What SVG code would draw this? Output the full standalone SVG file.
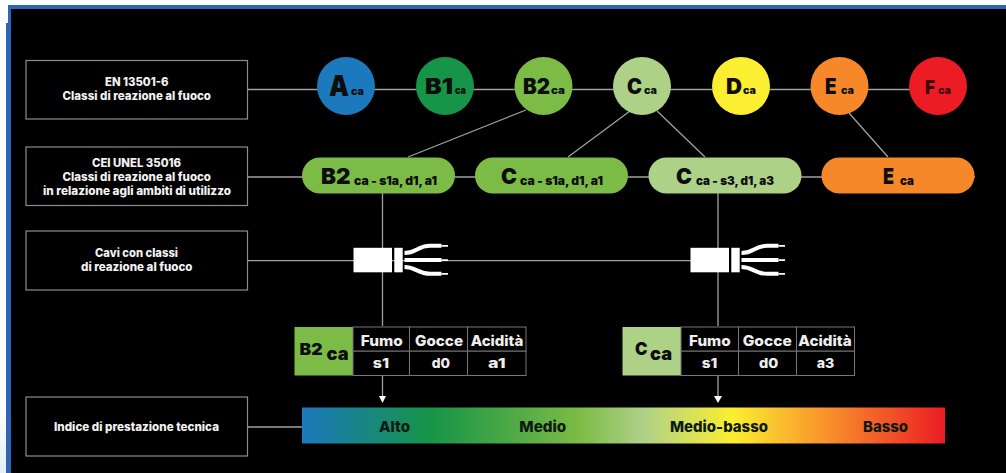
<svg xmlns="http://www.w3.org/2000/svg" width="1006" height="473" viewBox="0 0 1006 473">
<style>
text{font-family:"Inter","Liberation Sans",sans-serif;font-weight:900;text-anchor:start}
.lbl{fill:#f2f2f2;font-size:11.5px;font-weight:800}
.box{fill:#000;stroke:#8c8c8c;stroke-width:1.2}
.ln{stroke:#a0a0a0;stroke-width:1.3;fill:none}
.big{fill:#0d0d0d}
.cell{fill:#000;stroke:#777;stroke-width:1}
.th{fill:#eee;font-size:14.500px;font-weight:800}
.td{fill:#eee;font-size:13.500px;font-weight:800}
.bar{fill:#0e1a12;font-size:15px;font-weight:800}
.wire{stroke:#fff;stroke-width:4;fill:none}
.tip{stroke:#fff;stroke-width:1.800;fill:none}
</style>
<defs>
<linearGradient id="g" x1="0" x2="1" y1="0" y2="0">
<stop offset="0" stop-color="#1c79bd"/>
<stop offset="0.2" stop-color="#169447"/>
<stop offset="0.43" stop-color="#7cbb45"/>
<stop offset="0.53" stop-color="#aed188"/>
<stop offset="0.67" stop-color="#fcee30"/>
<stop offset="0.83" stop-color="#f7882a"/>
<stop offset="1" stop-color="#ec1c24"/>
</linearGradient>
<linearGradient id="side" x1="0" x2="0" y1="0" y2="1">
<stop offset="0" stop-color="#fff"/><stop offset="1" stop-color="#e3eef6"/>
</linearGradient>
<g id="cable">
<rect x="0" y="0" width="38.500" height="24.500" fill="#fff"/>
<rect x="40.800" y="0" width="8.400" height="24.500" fill="#fff"/>
<path class="wire" d="M51 5.300C63 5.300 64 -2 76.500 -2H88M51 12.300H88M51 19.300C63 19.300 64 26 76.500 26H88"/>
<path class="tip" d="M88 -2H94.500M88 12.300H94.500M88 26H94.500"/>
</g>
</defs>
<rect width="1006" height="473" fill="#fff"/>
<rect x="0" y="400" width="8" height="73" fill="url(#side)"/>
<rect x="8" y="5" width="998" height="468" fill="#2f64b5"/>
<rect x="6" y="23" width="5" height="450" fill="#2f64b5"/>
<rect x="11" y="9" width="995" height="464" fill="#000"/>

<g id="connectors">
<path class="ln" d="M247 89.500H938M247 177H975M247 427H302"/>
<path class="ln" d="M408 157L526 110M568 157L630 111M705 157L657 111M888 157L849 113"/>
<path class="ln" d="M382.500 193V326M718 193V326M247 260.700H692M382.500 376V398M718 376V398"/>
<path d="M379 396H386L382.500 403Z" fill="#fff"/>
<path d="M714 396H722L718 403Z" fill="#fff"/>
</g>

<g id="rowlabel1"><rect class="box" x="26" y="60.500" width="221.500" height="58.500"/><text class="lbl" x="105" y="85.500" textLength="63.500" lengthAdjust="spacingAndGlyphs">EN 13501-6</text><text class="lbl" x="62.500" y="99.500" textLength="148.500" lengthAdjust="spacingAndGlyphs">Classi di reazione al fuoco</text></g>
<g id="rowlabel2"><rect class="box" x="26" y="147" width="221.500" height="58.500"/><text class="lbl" x="92" y="166.500" textLength="89" lengthAdjust="spacingAndGlyphs">CEI UNEL 35016</text><text class="lbl" x="62.500" y="180.500" textLength="148.500" lengthAdjust="spacingAndGlyphs">Classi di reazione al fuoco</text><text class="lbl" x="43" y="194.500" textLength="188" lengthAdjust="spacingAndGlyphs">in relazione agli ambiti di utilizzo</text></g>
<g id="rowlabel3"><rect class="box" x="26" y="231" width="221.500" height="59"/><text class="lbl" x="95" y="257.300" textLength="83" lengthAdjust="spacingAndGlyphs">Cavi con classi</text><text class="lbl" x="81" y="271" textLength="111.500" lengthAdjust="spacingAndGlyphs">di reazione al fuoco</text></g>
<g id="rowlabel4"><rect class="box" x="26" y="397" width="221.500" height="59"/><text class="lbl" x="54" y="431" textLength="165" lengthAdjust="spacingAndGlyphs">Indice di prestazione tecnica</text></g>

<g id="class-a"><circle cx="346" cy="86" r="29" fill="#1c79bd"/><text class="big" x="329" y="96" font-size="29" textLength="20" lengthAdjust="spacingAndGlyphs">A</text><text class="big" x="351" y="95" font-size="10.500" textLength="13" lengthAdjust="spacingAndGlyphs">ca</text></g>
<g id="class-b1"><circle cx="445" cy="86" r="29" fill="#169447"/><text class="big" x="425" y="93.500" font-size="21" textLength="28" lengthAdjust="spacingAndGlyphs">B1</text><text class="big" x="455" y="93.500" font-size="10.500" textLength="11" lengthAdjust="spacingAndGlyphs">ca</text></g>
<g id="class-b2"><circle cx="543.500" cy="86" r="29" fill="#7cbb45"/><text class="big" x="523" y="93.500" font-size="21" textLength="27" lengthAdjust="spacingAndGlyphs">B2</text><text class="big" x="551" y="93.500" font-size="10.500" textLength="14" lengthAdjust="spacingAndGlyphs">ca</text></g>
<g id="class-c"><circle cx="642" cy="86" r="29" fill="#aed188"/><text class="big" x="627" y="93.500" font-size="21" textLength="15" lengthAdjust="spacingAndGlyphs">C</text><text class="big" x="644" y="93.500" font-size="10.500" textLength="13" lengthAdjust="spacingAndGlyphs">ca</text></g>
<g id="class-d"><circle cx="741" cy="86" r="29" fill="#fcee30"/><text class="big" x="726" y="93.500" font-size="21" textLength="16" lengthAdjust="spacingAndGlyphs">D</text><text class="big" x="743" y="93.500" font-size="10.500" textLength="13" lengthAdjust="spacingAndGlyphs">ca</text></g>
<g id="class-e"><circle cx="839.500" cy="86" r="29" fill="#f7882a"/><text class="big" x="825" y="93.500" font-size="21" textLength="11.500" lengthAdjust="spacingAndGlyphs">E</text><text class="big" x="841" y="93.500" font-size="10.500" textLength="13" lengthAdjust="spacingAndGlyphs">ca</text></g>
<g id="class-f"><circle cx="938" cy="86" r="29" fill="#ec1c24"/><text x="925" y="93.500" font-size="19" fill="#3d0a0c" textLength="10" lengthAdjust="spacingAndGlyphs">F</text><text x="938" y="93.500" font-size="10.500" fill="#3d0a0c" textLength="13" lengthAdjust="spacingAndGlyphs">ca</text></g>

<g id="pill-b2"><rect x="302" y="157.500" width="153" height="36" rx="18" fill="#7cbb45"/><text class="big" x="321" y="183.500" font-size="22" textLength="29.500" lengthAdjust="spacingAndGlyphs">B2</text><text class="big" x="354" y="185" font-size="11.500" textLength="83" lengthAdjust="spacingAndGlyphs">ca - s1a, d1, a1</text></g>
<g id="pill-c1"><rect x="475" y="157.500" width="153" height="36" rx="18" fill="#7cbb45"/><text class="big" x="501" y="183.500" font-size="22" textLength="16" lengthAdjust="spacingAndGlyphs">C</text><text class="big" x="520" y="185" font-size="11.500" textLength="83" lengthAdjust="spacingAndGlyphs">ca - s1a, d1, a1</text></g>
<g id="pill-c2"><rect x="648.500" y="157.500" width="153" height="36" rx="18" fill="#aed188"/><text class="big" x="676" y="183.500" font-size="22" textLength="16" lengthAdjust="spacingAndGlyphs">C</text><text class="big" x="696" y="185" font-size="11.500" textLength="78" lengthAdjust="spacingAndGlyphs">ca - s3, d1, a3</text></g>
<g id="pill-e"><rect x="821.500" y="157.500" width="153" height="36" rx="18" fill="#f7882a"/><text class="big" x="883" y="183.500" font-size="22" textLength="11" lengthAdjust="spacingAndGlyphs">E</text><text class="big" x="900" y="185" font-size="11.500" textLength="14" lengthAdjust="spacingAndGlyphs">ca</text></g>

<g id="cable-1"><use href="#cable" x="353.500" y="247.800"/></g>
<g id="cable-2"><use href="#cable" x="690.500" y="247.800"/></g>

<g id="table-b2">
<rect x="294.500" y="327" width="58.500" height="48.500" fill="#7cbb45"/>
<text class="big" x="299.500" y="355" font-size="16" textLength="23" lengthAdjust="spacingAndGlyphs">B2</text><text class="big" x="326.500" y="359.500" font-size="18.500" textLength="22" lengthAdjust="spacingAndGlyphs">ca</text>
<rect class="cell" x="353" y="327" width="56.500" height="24.200"/><rect class="cell" x="409.500" y="327" width="58" height="24.200"/><rect class="cell" x="467.500" y="327" width="58.500" height="24.200"/>
<rect class="cell" x="353" y="351.200" width="56.500" height="24.300"/><rect class="cell" x="409.500" y="351.200" width="58" height="24.300"/><rect class="cell" x="467.500" y="351.200" width="58.500" height="24.300"/>
<text class="th" x="360.700" y="346" textLength="42" lengthAdjust="spacingAndGlyphs">Fumo</text><text class="th" x="415" y="346" textLength="48" lengthAdjust="spacingAndGlyphs">Gocce</text><text class="th" x="470.700" y="346" textLength="52.500" lengthAdjust="spacingAndGlyphs">Acidità</text>
<text class="td" x="372.700" y="368" textLength="16.300" lengthAdjust="spacingAndGlyphs">s1</text><text class="td" x="431.700" y="368" textLength="18.300" lengthAdjust="spacingAndGlyphs">d0</text><text class="td" x="488" y="368" textLength="17.700" lengthAdjust="spacingAndGlyphs">a1</text>
</g>
<g id="table-c">
<rect x="622.500" y="327" width="58.500" height="48.500" fill="#aed188"/>
<text class="big" x="635" y="355" font-size="17" textLength="12.500" lengthAdjust="spacingAndGlyphs">C</text><text class="big" x="650" y="360" font-size="18.500" textLength="22" lengthAdjust="spacingAndGlyphs">ca</text>
<rect class="cell" x="681" y="327" width="57.500" height="24.200"/><rect class="cell" x="738.500" y="327" width="58" height="24.200"/><rect class="cell" x="796.500" y="327" width="58" height="24.200"/>
<rect class="cell" x="681" y="351.200" width="57.500" height="24.300"/><rect class="cell" x="738.500" y="351.200" width="58" height="24.300"/><rect class="cell" x="796.500" y="351.200" width="58" height="24.300"/>
<text class="th" x="689" y="346" textLength="41.700" lengthAdjust="spacingAndGlyphs">Fumo</text><text class="th" x="742.700" y="346" textLength="49" lengthAdjust="spacingAndGlyphs">Gocce</text><text class="th" x="798.300" y="346" textLength="53.400" lengthAdjust="spacingAndGlyphs">Acidità</text>
<text class="td" x="701.700" y="368" textLength="15.600" lengthAdjust="spacingAndGlyphs">s1</text><text class="td" x="759" y="368" textLength="19.300" lengthAdjust="spacingAndGlyphs">d0</text><text class="td" x="816.700" y="368" textLength="17.600" lengthAdjust="spacingAndGlyphs">a3</text>
</g>

<g id="scale">
<rect x="302" y="407.500" width="643" height="36" fill="url(#g)"/>
<text class="bar" x="379" y="431.500" textLength="31" lengthAdjust="spacingAndGlyphs">Alto</text><text class="bar" x="519.300" y="431.500" textLength="47" lengthAdjust="spacingAndGlyphs">Medio</text><text class="bar" x="670" y="431.500" textLength="98" lengthAdjust="spacingAndGlyphs">Medio-basso</text><text class="bar" x="863" y="431.500" textLength="45" lengthAdjust="spacingAndGlyphs">Basso</text>
</g>
</svg>
